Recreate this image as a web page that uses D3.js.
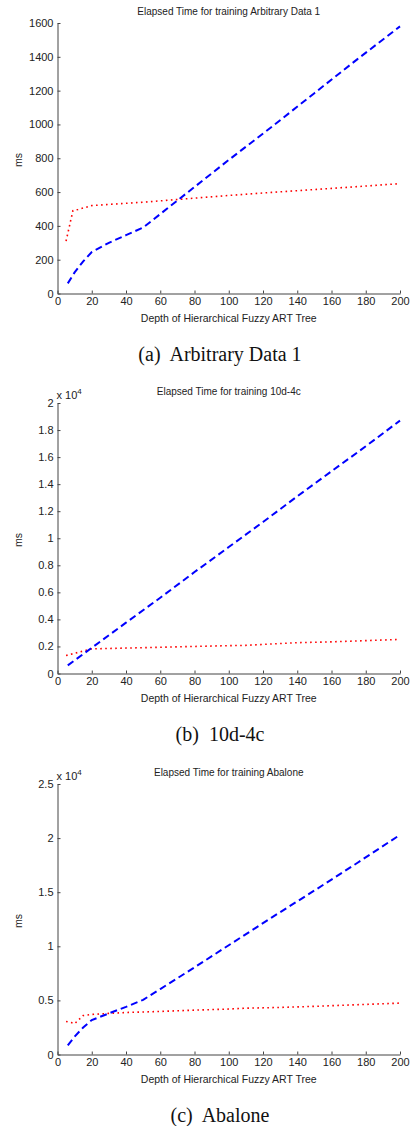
<!DOCTYPE html>
<html>
<head>
<meta charset="utf-8">
<script src="https://cdn.jsdelivr.net/npm/d3@7"></script>
<style>
  body { margin: 0; background: #fff; }
  svg { display: block; }
  .axis text { font-family: "Liberation Sans", Arial, sans-serif; font-size: 11px; fill: #222; }
  .axis path, .axis line { stroke: #444; }
  .lbl { font-family: "Liberation Sans", Arial, sans-serif; fill: #222; }
  .cap { font-family: "Liberation Serif", "Times New Roman", serif; font-size: 20px; fill: #111; white-space: pre; }
</style>
</head>
<body>
<svg id="fig" width="411" height="1126"></svg>
<script>
// valores (ms)
var depthA_hf = [6, 10, 15, 20, 30, 40, 50, 75, 100, 125, 150, 175, 200];
var timeA_hf = [60, 125, 190, 245, 300, 345, 390, 590, 790, 985, 1185, 1385, 1580];
var depthA_fa = [5, 7, 9, 12, 20, 30, 50, 75, 100, 125, 150, 175, 200];
var timeA_fa = [310, 400, 490, 497, 520, 527, 540, 560, 580, 598, 615, 632, 650];

var depthB_hf = [6, 20, 40, 60, 80, 100, 120, 140, 160, 180, 200];
var timeB_hf = [600, 1900, 3760, 5600, 7500, 9350, 11200, 13100, 14950, 16800, 18700];
var depthB_fa = [5, 20, 40, 60, 80, 100, 110, 120, 140, 160, 180, 200];
var timeB_fa = [1330, 1820, 1880, 1940, 2000, 2060, 2080, 2150, 2280, 2340, 2430, 2520];

var depthC_hf = [6, 10, 15, 20, 30, 40, 50, 60, 80, 100, 125, 150, 175, 200];
var timeC_hf = [850, 1650, 2500, 3180, 3800, 4400, 5050, 6050, 8050, 10100, 12650, 15150, 17700, 20300];
var depthC_fa = [5, 8, 10, 15, 20, 30, 40, 60, 80, 100, 110, 130, 150, 175, 200];
var timeC_fa = [3050, 2950, 2850, 3600, 3700, 3800, 3880, 3980, 4100, 4200, 4280, 4350, 4450, 4600, 4750];

var xTicks = d3.range(0, 201, 20);
var yTicksA = d3.range(0, 1601, 200);
var yTicksB = d3.range(0, 20001, 2000);
var yTicksC = d3.range(0, 25001, 5000);

var titles = ["Elapsed Time for training Arbitrary Data 1",
              "Elapsed Time for training 10d-4c",
              "Elapsed Time for training Abalone"];
var captions = ["(a)  Arbitrary Data 1", "(b)  10d-4c", "(c)  Abalone"];
var xLabel = "Depth of Hierarchical Fuzzy ART Tree";
var yLabel = "ms";

var svg = d3.select("#fig");

var paineis = [
  {top: 23, yMax: 1600, ticks: yTicksA, exp: false,
   hf: [depthA_hf, timeA_hf], fa: [depthA_fa, timeA_fa]},
  {top: 403, yMax: 20000, ticks: yTicksB, exp: true,
   hf: [depthB_hf, timeB_hf], fa: [depthB_fa, timeB_fa]},
  {top: 784, yMax: 25000, ticks: yTicksC, exp: true,
   hf: [depthC_hf, timeC_hf], fa: [depthC_fa, timeC_fa]}
];

var left = 57.5, right = 400, plotH = 270.5;

paineis.forEach(function(p, i) {
  var g = svg.append("g");
  var x = d3.scaleLinear().domain([0, 200]).range([left, right]);
  var y = d3.scaleLinear().domain([0, p.yMax]).range([p.top + plotH, p.top]);

  // eixos (ticks para dentro, estilo matlab)
  g.append("g")
    .attr("class", "axis")
    .attr("transform", "translate(0," + (p.top + plotH) + ")")
    .call(d3.axisBottom(x).tickValues(xTicks).tickSizeInner(-3).tickSizeOuter(0).tickPadding(4));

  var fmt = p.exp ? function(d) { return String(+(d / 1e4).toFixed(1)); } : d3.format("d");
  g.append("g")
    .attr("class", "axis")
    .attr("transform", "translate(" + left + ",0)")
    .call(d3.axisLeft(y).tickValues(p.ticks).tickFormat(fmt).tickSizeInner(-3).tickSizeOuter(0).tickPadding(4));

  g.selectAll(".axis text").attr("fill", "#222");

  if (p.exp) {
    var t = g.append("text").attr("class", "lbl")
      .attr("x", left - 1).attr("y", p.top - 4.5)
      .style("font-size", "11px");
    t.append("tspan").text("x 10");
    t.append("tspan").attr("dy", -5).style("font-size", "8px").text("4");
  }

  // titulo
  g.append("text").attr("class", "lbl")
    .attr("x", (left + right) / 2).attr("y", p.top - 8.5)
    .attr("text-anchor", "middle").style("font-size", "10px")
    .text(titles[i]);

  // rotulos dos eixos
  g.append("text").attr("class", "lbl")
    .attr("x", (left + right) / 2).attr("y", p.top + plotH + 28)
    .attr("text-anchor", "middle").style("font-size", "10.5px")
    .text(xLabel);

  g.append("text").attr("class", "lbl")
    .attr("transform", "translate(22," + (p.top + 137) + ") rotate(-90)")
    .attr("text-anchor", "middle").style("font-size", "10.5px")
    .text(yLabel);

  var line = d3.line()
    .x(function(d) { return x(d[0]); })
    .y(function(d) { return y(d[1]); });

  var faPts = d3.zip(p.fa[0], p.fa[1]);
  var hfPts = d3.zip(p.hf[0], p.hf[1]);

  g.append("path")
    .datum(faPts)
    .attr("d", line)
    .attr("fill", "none")
    .attr("stroke", "#ff0000")
    .attr("stroke-width", 1.6)
    .attr("stroke-dasharray", "1.6,3.4");

  g.append("path")
    .datum(hfPts)
    .attr("d", line)
    .attr("fill", "none")
    .attr("stroke", "#0000ff")
    .attr("stroke-width", 2)
    .attr("stroke-dasharray", "7,4");

  // legenda da figura
  svg.append("text").attr("class", "cap")
    .attr("x", 220).attr("y", p.top + 338)
    .attr("text-anchor", "middle")
    .text(captions[i]);
});
</script>
</body>
</html>
